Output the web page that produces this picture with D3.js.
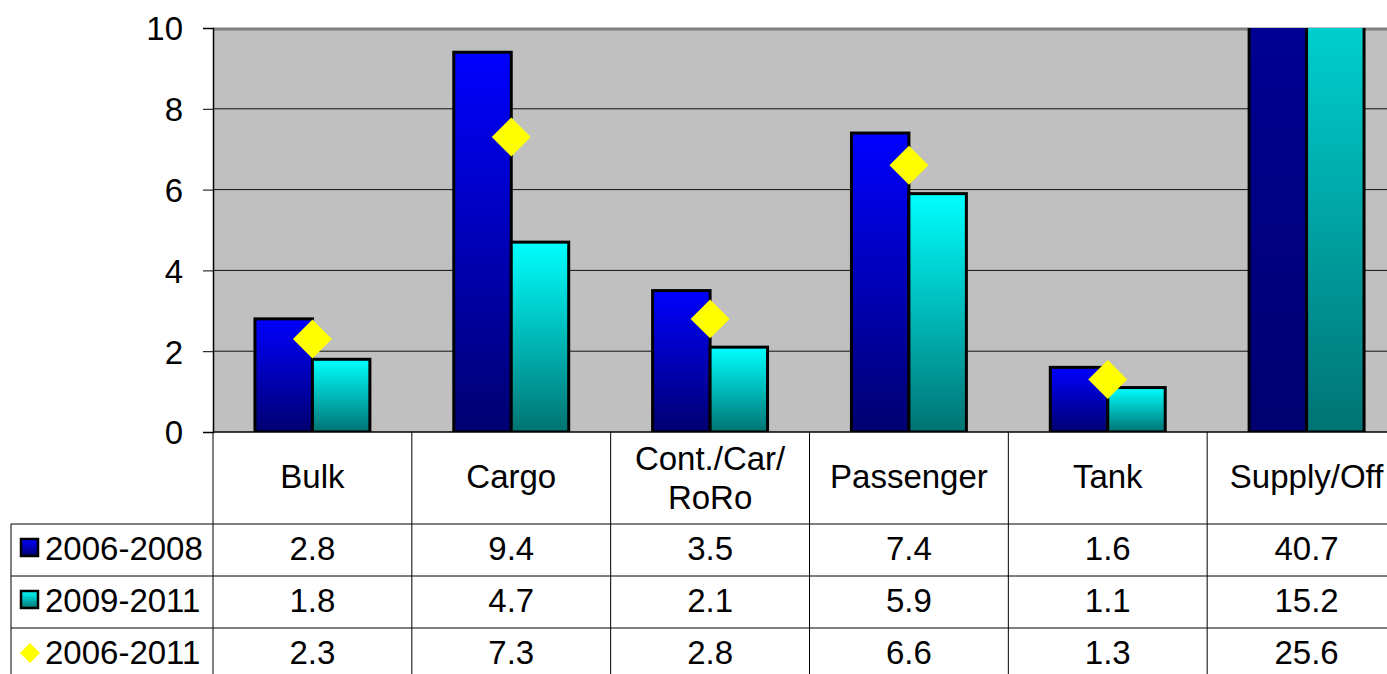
<!DOCTYPE html>
<html><head><meta charset="utf-8">
<script src="https://cdn.jsdelivr.net/npm/d3@7"></script>
<style>html,body{margin:0;padding:0;background:#fff;overflow:hidden}text{font-family:"Liberation Sans",Arial,sans-serif;fill:#000}</style>
</head><body>
<script>
const categories = ["Bulk","Cargo","Cont./Car/\nRoRo","Passenger","Tank","Supply/Off"];
const seriesNames = ["2006-2008","2009-2011","2006-2011"];
const s2006_2008 = [2.8, 9.4, 3.5, 7.4, 1.6, 40.7];
const s2009_2011 = [1.8, 4.7, 2.1, 5.9, 1.1, 15.2];
const s2006_2011 = [2.3, 7.3, 2.8, 6.6, 1.3, 25.6];
const yTicks = [0, 2, 4, 6, 8, 10];

(function(){
const W = 1387, H = 674, FS = 33;
const svg = d3.select("body").append("svg").attr("width", W).attr("height", H);
const defs = svg.append("defs");
function grad(id, c1, c2){
  const g = defs.append("linearGradient").attr("id", id).attr("x1",0).attr("y1",0).attr("x2",0).attr("y2",1);
  g.append("stop").attr("offset","0%").attr("stop-color",c1);
  g.append("stop").attr("offset","100%").attr("stop-color",c2);
}
grad("gBlue", "#0000FF", "#000070");
grad("gCyan", "#00FFFF", "#007373");

const pLeft = 213, pRight = 1406, pTop = 28, pBottom = 432;
const x = d3.scaleBand().domain(categories).range([pLeft, pRight]).padding(0);
const xs = d3.scaleBand().domain([0,1]).range([0, x.bandwidth()]).paddingInner(0).paddingOuter(0.73);
const y = d3.scaleLinear().domain([0, 10]).range([pBottom, pTop]);

svg.append("rect").attr("x", pLeft).attr("y", pTop).attr("width", pRight - pLeft).attr("height", pBottom - pTop).attr("fill", "#C0C0C0");
defs.append("clipPath").attr("id","plotClip").append("rect").attr("x", pLeft).attr("y", pTop).attr("width", pRight-pLeft).attr("height", pBottom-pTop);

svg.append("g").selectAll("line").data(yTicks.filter(t => t > 0 && t < 10)).join("line")
  .attr("x1", pLeft).attr("x2", pRight).attr("y1", d => y(d)).attr("y2", d => y(d))
  .attr("stroke", "#111").attr("stroke-width", 1);
svg.append("line").attr("x1", pLeft).attr("x2", pRight).attr("y1", y(10)+1).attr("y2", y(10)+1).attr("stroke", "#808080").attr("stroke-width", 3);

const plot = svg.append("g").attr("clip-path", "url(#plotClip)");
const seriesVals = [s2006_2008, s2009_2011];
const fills = ["url(#gBlue)", "url(#gCyan)"];
seriesVals.forEach((vals, si) => {
  plot.append("g").selectAll("rect").data(vals).join("rect")
    .attr("x", (d, i) => x(categories[i]) + xs(si))
    .attr("width", xs.bandwidth())
    .attr("y", d => y(d))
    .attr("height", d => y(0) - y(d))
    .attr("fill", fills[si])
    .attr("stroke", "#000").attr("stroke-width", 3);
});
const diamond = d3.symbol(d3.symbolSquare, 760);
plot.append("g").selectAll("path").data(s2006_2011).join("path")
  .attr("d", diamond)
  .attr("transform", (d, i) => `translate(${x(categories[i]) + x.bandwidth()/2},${y(d)}) rotate(45)`)
  .attr("fill", "#FFFF00");

const yAxis = d3.axisLeft(y).tickValues(yTicks).tickSize(10).tickPadding(20).tickFormat(d3.format("d"));
const ya = svg.append("g").attr("transform", `translate(${pLeft},0)`).call(yAxis);
ya.select(".domain").attr("stroke", "#000").attr("stroke-width", 1.5);
ya.selectAll(".tick line").attr("stroke", "#000");
ya.selectAll(".tick text").attr("font-size", FS).attr("font-family", '"Liberation Sans",Arial,sans-serif').attr("fill","#000").attr("dy", "0.36em");
svg.append("line").attr("x1", pLeft).attr("x2", pRight).attr("y1", pBottom).attr("y2", pBottom).attr("stroke", "#000").attr("stroke-width", 1.5);

const rowLines = [524, 576, 628];
const tbl = svg.append("g").attr("stroke", "#000").attr("stroke-width", 1);
rowLines.forEach(yy => tbl.append("line").attr("x1", 11).attr("x2", pRight).attr("y1", yy).attr("y2", yy));
tbl.append("line").attr("x1", 11).attr("x2", 11).attr("y1", 524).attr("y2", H);
categories.forEach(c => { const bx = x(c); tbl.append("line").attr("x1", bx).attr("x2", bx).attr("y1", pBottom).attr("y2", H); });

categories.forEach(c => {
  const lines = c.split("\n");
  const cx = x(c) + x.bandwidth()/2;
  const t = svg.append("text").attr("x", cx).attr("text-anchor", "middle").attr("font-size", FS);
  if (lines.length === 1) {
    t.attr("y", 488).text(lines[0]);
  } else {
    t.append("tspan").attr("x", cx).attr("y", 470).text(lines[0]);
    t.append("tspan").attr("x", cx).attr("y", 509).text(lines[1]);
  }
});

const rowBase = [560, 612, 664];
const allSeries = [s2006_2008, s2009_2011, s2006_2011];
allSeries.forEach((vals, ri) => {
  svg.append("g").selectAll("text").data(vals).join("text")
    .attr("x", (d, i) => x(categories[i]) + x.bandwidth()/2)
    .attr("y", rowBase[ri]).attr("text-anchor", "middle").attr("font-size", FS)
    .text(d => d3.format(".1f")(d));
  svg.append("text").attr("x", 45).attr("y", rowBase[ri]).attr("font-size", FS).text(seriesNames[ri]);
});
[0,1].forEach(si => {
  svg.append("rect").attr("x", 21).attr("y", rowBase[si] - 21).attr("width", 17).attr("height", 17)
    .attr("fill", fills[si]).attr("stroke", "#000").attr("stroke-width", 2.5);
});
svg.append("path").attr("d", d3.symbol(d3.symbolSquare, 200)).attr("transform", `translate(30,${rowBase[2]-11}) rotate(45)`).attr("fill", "#FFFF00");
})();
</script>
</body></html>
